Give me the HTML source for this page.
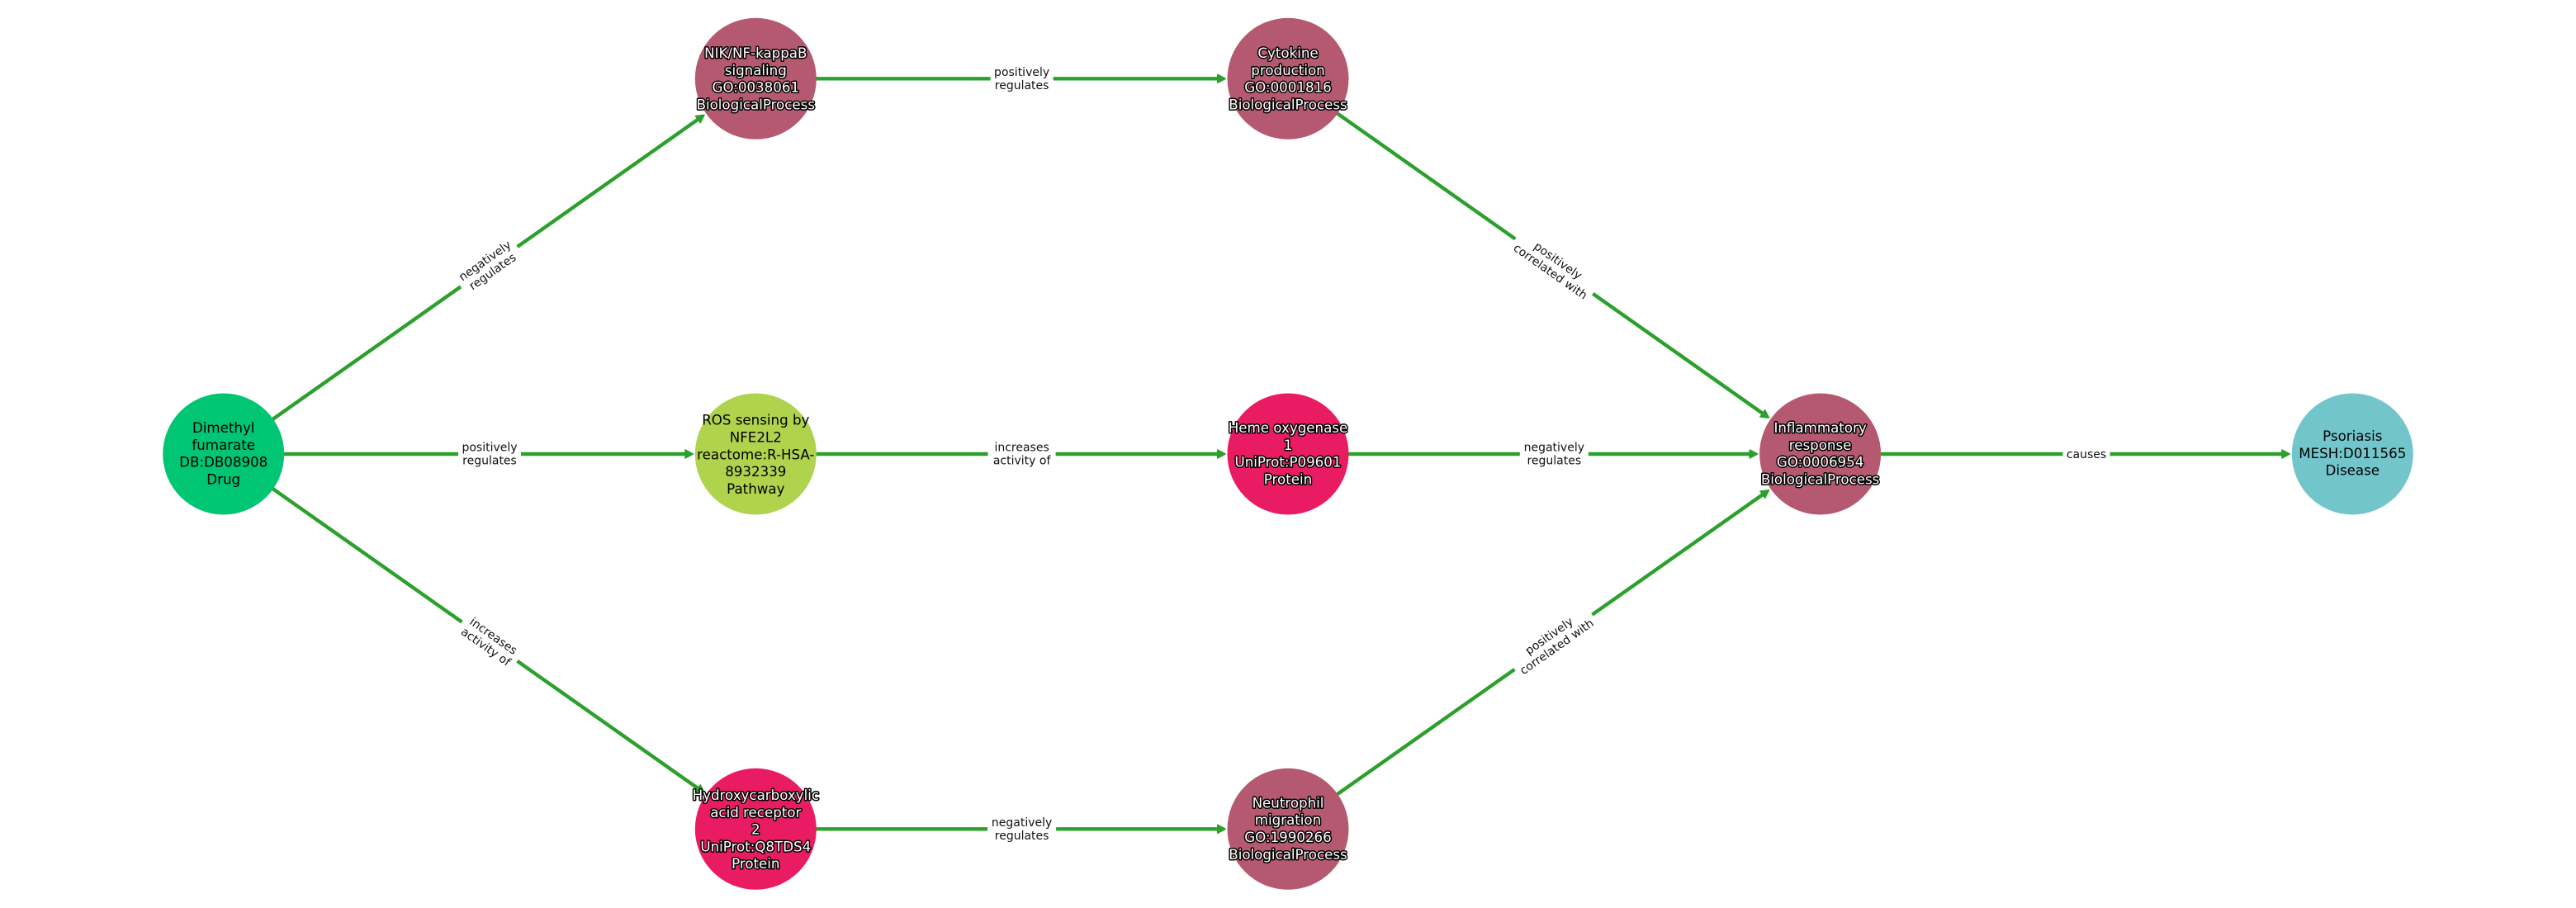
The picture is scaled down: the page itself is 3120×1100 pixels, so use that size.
<!DOCTYPE html>
<html lang="en">
<head>
<meta charset="utf-8">
<title>Dimethyl fumarate to Psoriasis pathway</title>
<style>
html,body{margin:0;padding:0;background:#fff;width:3120px;height:1100px;overflow:hidden}
svg{display:block}
text{font-family:"DejaVu Sans","Liberation Sans",sans-serif;text-anchor:middle}
.n text{font-size:16.67px;fill:#000}
.w text{fill:#fff;stroke:#000;stroke-width:3px;paint-order:stroke;stroke-linejoin:round}
.l text{font-size:14px;fill:#111}
.e line{stroke:#2ca02c;stroke-width:4.4}
.a path{fill:#2ca02c;stroke:#2ca02c;stroke-width:1.5;stroke-linejoin:round}
.l rect{fill:#fff}
</style>
</head>
<body>
<svg width="3120" height="1100" viewBox="0 0 3120 1100" xmlns="http://www.w3.org/2000/svg">
<rect width="3120" height="1100" fill="#fff"/>

<g class="e">
<line x1="270.7" y1="550" x2="849.1" y2="142"/>
<line x1="270.7" y1="550" x2="834.3" y2="550"/>
<line x1="270.7" y1="550" x2="849.1" y2="957.7"/>
<line x1="915.3" y1="95.3" x2="1479" y2="95.3"/>
<line x1="915.3" y1="550" x2="1479" y2="550"/>
<line x1="915.3" y1="1004.3" x2="1479" y2="1004.3"/>
<line x1="1560" y1="95.3" x2="2138.4" y2="503.3"/>
<line x1="1560" y1="550" x2="2123.6" y2="550"/>
<line x1="1560" y1="1004.3" x2="2138.4" y2="596.7"/>
<line x1="2204.6" y1="550" x2="2768.2" y2="550"/>
</g>
<g class="a">
<path transform="translate(853.5,138.9) rotate(-35.2)" d="M-.5,0 L-10,-5 L-10,5Z"/>
<path transform="translate(840,550)" d="M-.5,0 L-10,-5 L-10,5Z"/>
<path transform="translate(853.5,960.7) rotate(35.2)" d="M-.5,0 L-10,-5 L-10,5Z"/>
<path transform="translate(1484.7,95.3)" d="M-.5,0 L-10,-5 L-10,5Z"/>
<path transform="translate(1484.7,550)" d="M-.5,0 L-10,-5 L-10,5Z"/>
<path transform="translate(1484.7,1004.3)" d="M-.5,0 L-10,-5 L-10,5Z"/>
<path transform="translate(2143,506.6) rotate(35.2)" d="M-.5,0 L-10,-5 L-10,5Z"/>
<path transform="translate(2129.3,550)" d="M-.5,0 L-10,-5 L-10,5Z"/>
<path transform="translate(2143,593.4) rotate(-35.2)" d="M-.5,0 L-10,-5 L-10,5Z"/>
<path transform="translate(2773.9,550)" d="M-.5,0 L-10,-5 L-10,5Z"/>
</g>

<g class="l">
<g transform="translate(592,322.6) rotate(-35.2)"><rect x="-42" y="-21" width="84" height="42"/><text y="-3.5">negatively</text><text y="12.5">regulates</text></g>
<g transform="translate(593,550)"><rect x="-38" y="-21" width="76" height="42"/><text y="-3.5">positively</text><text y="12.5">regulates</text></g>
<g transform="translate(593,777.2) rotate(35.2)"><rect x="-41" y="-21" width="82" height="42"/><text y="-3.5">increases</text><text y="12.5">activity of</text></g>
<g transform="translate(1237.6,95.3)"><rect x="-38" y="-21" width="76" height="42"/><text y="-3.5">positively</text><text y="12.5">regulates</text></g>
<g transform="translate(1237.6,550)"><rect x="-41" y="-21" width="82" height="42"/><text y="-3.5">increases</text><text y="12.5">activity of</text></g>
<g transform="translate(1237.6,1004.3)"><rect x="-41.5" y="-21" width="83" height="42"/><text y="-3.5">negatively</text><text y="12.5">regulates</text></g>
<g transform="translate(1882.3,322.6) rotate(35.2)"><rect x="-57.5" y="-21" width="115" height="42"/><text y="-3.5">positively</text><text y="12.5">correlated with</text></g>
<g transform="translate(1882.3,550)"><rect x="-41.5" y="-21" width="83" height="42"/><text y="-3.5">negatively</text><text y="12.5">regulates</text></g>
<g transform="translate(1881,777.2) rotate(-35.2)"><rect x="-57.5" y="-21" width="115" height="42"/><text y="-3.5">positively</text><text y="12.5">correlated with</text></g>
<g transform="translate(2527,550)"><rect x="-28.5" y="-10" width="57" height="20"/><text y="5">causes</text></g>
</g>

<g class="n">
<circle cx="270.7" cy="550" r="73.5" fill="#00c573"/>
<text x="270.7" y="524">Dimethyl</text><text x="270.7" y="544.8">fumarate</text><text x="270.7" y="565.6">DB:DB08908</text><text x="270.7" y="586.4">Drug</text>

<circle cx="915.3" cy="550" r="73.5" fill="#b0d34e"/>
<text x="915.3" y="514.7">ROS sensing by</text><text x="915.3" y="535.5">NFE2L2</text><text x="915.3" y="556.3">reactome:R-HSA-</text><text x="915.3" y="577.1">8932339</text><text x="915.3" y="597.9">Pathway</text>

<circle cx="2849.3" cy="550" r="73.5" fill="#72c6cb"/>
<text x="2849.3" y="534">Psoriasis</text><text x="2849.3" y="554.8">MESH:D011565</text><text x="2849.3" y="575.6">Disease</text>

<circle cx="915.3" cy="95.3" r="73.5" fill="#b55970"/>
<circle cx="1560" cy="95.3" r="73.5" fill="#b55970"/>
<circle cx="2204.6" cy="550" r="73.5" fill="#b55970"/>
<circle cx="1560" cy="1004.3" r="73.5" fill="#b55970"/>
<circle cx="1560" cy="550" r="73.5" fill="#e91c63"/>
<circle cx="915.3" cy="1004.3" r="73.5" fill="#e91c63"/>
</g>

<g class="n w">
<text x="915.3" y="70">NIK/NF-kappaB</text><text x="915.3" y="90.8">signaling</text><text x="915.3" y="111.6">GO:0038061</text><text x="915.3" y="132.4">BiologicalProcess</text>

<text x="1560" y="70">Cytokine</text><text x="1560" y="90.8">production</text><text x="1560" y="111.6">GO:0001816</text><text x="1560" y="132.4">BiologicalProcess</text>

<text x="2204.6" y="524">Inflammatory</text><text x="2204.6" y="544.8">response</text><text x="2204.6" y="565.6">GO:0006954</text><text x="2204.6" y="586.4">BiologicalProcess</text>

<text x="1560" y="978.4">Neutrophil</text><text x="1560" y="999.2">migration</text><text x="1560" y="1020">GO:1990266</text><text x="1560" y="1040.8">BiologicalProcess</text>

<text x="1560" y="524">Heme oxygenase</text><text x="1560" y="544.8">1</text><text x="1560" y="565.6">UniProt:P09601</text><text x="1560" y="586.4">Protein</text>

<text x="915.3" y="969">Hydroxycarboxylic</text><text x="915.3" y="989.8">acid receptor</text><text x="915.3" y="1010.6">2</text><text x="915.3" y="1031.4">UniProt:Q8TDS4</text><text x="915.3" y="1052.2">Protein</text>
</g>
</svg>
</body>
</html>
